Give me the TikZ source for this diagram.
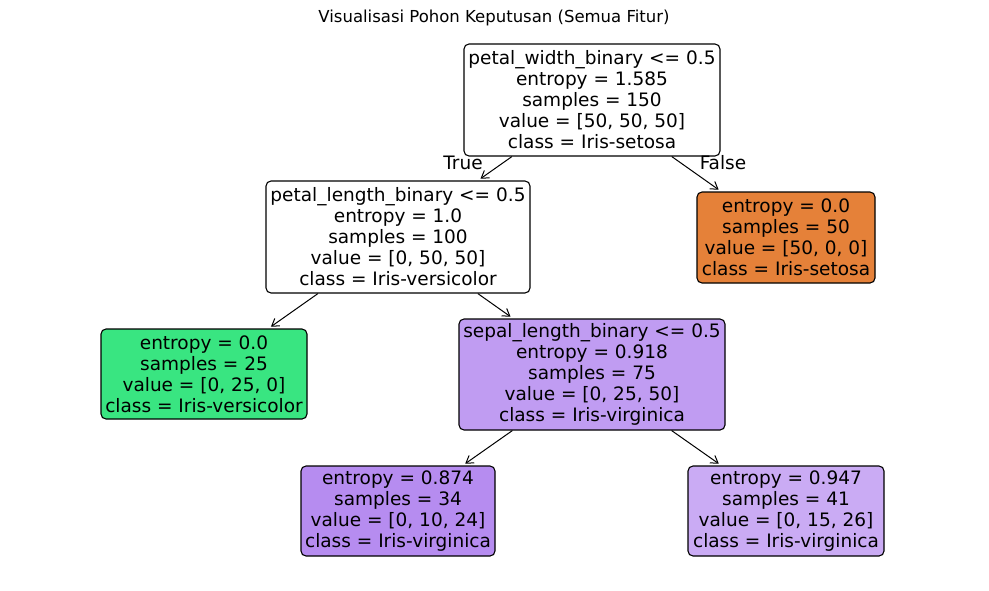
\documentclass[tikz,border=0pt]{standalone}
\usepackage{fontspec}
\setmainfont{DejaVu Sans}
\usetikzlibrary{arrows.meta}
\definecolor{cOrange}{HTML}{E58139}
\definecolor{cGreen}{HTML}{39E581}
\definecolor{cPurpleA}{HTML}{C09CF2}
\definecolor{cPurpleB}{HTML}{B68CF0}
\definecolor{cPurpleC}{HTML}{CAABF4}
\tikzset{
  treebox/.style={draw=black, line width=1.1pt, rounded corners=5pt, align=center,
    inner sep=0pt, font=\fontsize{18.5}{21}\selectfont},
  edge/.style={-{Straight Barb[length=7pt,width=9pt,line width=1pt]}, line width=1pt, shorten >=3pt},
  elabel/.style={font=\fontsize{18.5}{21}\selectfont, inner sep=0pt}
}
\begin{document}
\begin{tikzpicture}[x=1pt,y=-1pt]
\useasboundingbox (0,0) rectangle (989,590);
\node[font=\fontsize{16.5}{19}\selectfont] (title) at (494,18) {Visualisasi Pohon Keputusan (Semua Fitur)};
\node[treebox, fill=white, minimum width=256pt, minimum height=112pt] (root) at (592,100)
  {petal\_width\_binary <= 0.5\\entropy = 1.585\\samples = 150\\value = [50, 50, 50]\\class = Iris-setosa};
\node[treebox, fill=white, minimum width=264pt, minimum height=112pt] (pl) at (398,237)
  {petal\_length\_binary <= 0.5\\entropy = 1.0\\samples = 100\\value = [0, 50, 50]\\class = Iris-versicolor};
\node[treebox, fill=cOrange, minimum width=178pt, minimum height=91pt] (set) at (786,237.5)
  {entropy = 0.0\\samples = 50\\value = [50, 0, 0]\\class = Iris-setosa};
\node[treebox, fill=cGreen, minimum width=206pt, minimum height=90pt] (ver) at (204,374)
  {entropy = 0.0\\samples = 25\\value = [0, 25, 0]\\class = Iris-versicolor};
\node[treebox, fill=cPurpleA, minimum width=266pt, minimum height=111pt] (sl) at (592,374.5)
  {sepal\_length\_binary <= 0.5\\entropy = 0.918\\samples = 75\\value = [0, 25, 50]\\class = Iris-virginica};
\node[treebox, fill=cPurpleB, minimum width=194pt, minimum height=90pt] (v1) at (398,511)
  {entropy = 0.874\\samples = 34\\value = [0, 10, 24]\\class = Iris-virginica};
\node[treebox, fill=cPurpleC, minimum width=196pt, minimum height=90pt] (v2) at (786,511)
  {entropy = 0.947\\samples = 41\\value = [0, 15, 26]\\class = Iris-virginica};
\draw[edge] (root) -- (pl);
\draw[edge] (root) -- (set);
\draw[edge] (pl) -- (ver);
\draw[edge] (pl) -- (sl);
\draw[edge] (sl) -- (v1);
\draw[edge] (sl) -- (v2);
\node[elabel] (tl) at (463,163) {True};
\node[elabel] (fl) at (723,163) {False};
\end{tikzpicture}
\end{document}
